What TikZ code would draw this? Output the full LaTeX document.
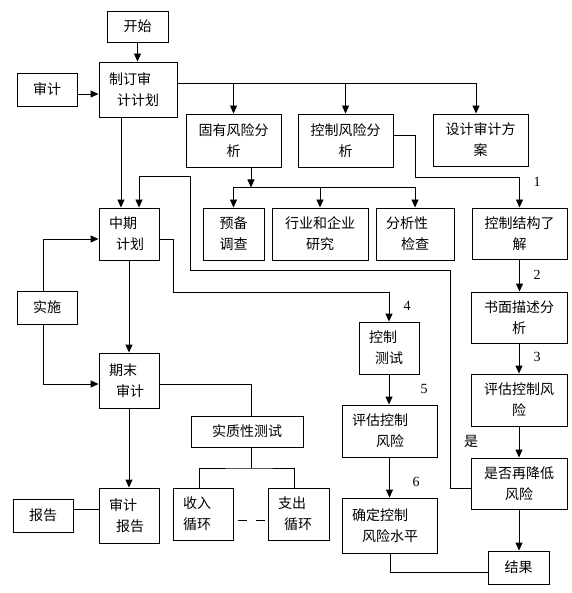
\documentclass[tikz,border=0pt]{standalone}
\usepackage{fontspec}
\setmainfont{Noto Sans CJK SC}
\newfontfamily\numfont{Liberation Serif}
\usetikzlibrary{arrows.meta,calc}
\begin{document}
\begin{tikzpicture}[x=1pt,y=-1pt, line width=0.9pt,
 box/.style={draw, rectangle, align=center, inner sep=0pt, font=\fontsize{14pt}{21pt}\selectfont},
 lbox/.style={box, align=left, inner xsep=10pt, inner ysep=0pt},
 arr/.style={-{Triangle[length=8pt,width=7pt]}},
 num/.style={font=\numfont\fontsize{14pt}{14pt}\selectfont}]
\useasboundingbox[fill=white] (0,0) rectangle (571,593);

% nodes
\node[box,minimum width=61pt,minimum height=31pt] (start) at (137.5,26.5) {开始};
\node[box,minimum width=60pt,minimum height=33pt] (audit) at (47,89.5) {审计};
\node[lbox,text width=58pt,minimum height=55pt] (plan) at (138,89.5) {制订审\\\hspace*{8pt}计计划};
\node[box,minimum width=95pt,minimum height=53pt] (inh) at (233.5,140.5) {固有风险分\\析};
\node[box,minimum width=95pt,minimum height=53pt] (ctrl) at (345.5,140.5) {控制风险分\\析};
\node[box,minimum width=95pt,minimum height=52pt] (design) at (480.5,140) {设计审计方\\案};
\node[box,minimum width=61pt,minimum height=52pt] (prep) at (233.5,234) {预备\\调查};
\node[box,minimum width=96pt,minimum height=52pt] (industry) at (320,234) {行业和企业\\研究};
\node[lbox,text width=58pt,minimum height=52pt] (analytic) at (415,234) {分析性\\\hspace*{15pt}检查};
\node[box,minimum width=95pt,minimum height=51pt] (struct) at (519.5,233.5) {控制结构了\\解};
\node[lbox,text width=40pt,minimum height=52pt] (mid) at (129,234) {中期\\\hspace*{7pt}计划};
\node[box,minimum width=60pt,minimum height=33pt] (impl) at (47,307.5) {实施};
\node[lbox,text width=40pt,minimum height=52pt] (test) at (389,348) {控制\\\hspace*{6pt}测试};
\node[box,minimum width=96pt,minimum height=51pt] (written) at (519,317.5) {书面描述分\\析};
\node[box,minimum width=96pt,minimum height=52pt] (evalr) at (519,400) {评估控制风\\险};
\node[lbox,text width=75pt,minimum height=52pt] (evalm) at (389.5,431) {评估控制\\\hspace*{24pt}风险};
\node[lbox,text width=40pt,minimum height=55pt] (final) at (129,380.5) {期末\\\hspace*{7pt}审计};
\node[box,minimum width=112pt,minimum height=31pt] (subst) at (247,431.5) {实质性测试};
\node[box,minimum width=96pt,minimum height=51pt] (reduce) at (519,483.5) {是否再降低\\风险};
\node[lbox,text width=75pt,minimum height=55pt] (determine) at (389.5,525.5) {确定控制\\\hspace*{10pt}风险水平};
\node[lbox,text width=40pt,minimum height=52pt] (income) at (203,514) {收入\\循环};
\node[lbox,text width=41pt,minimum height=52pt] (expense) at (298.5,514) {支出\\\hspace*{6pt}循环};
\node[lbox,text width=40pt,minimum height=55pt] (rbox) at (129,515.5) {审计\\\hspace*{7pt}报告};
\node[box,minimum width=60pt,minimum height=33pt] (report) at (43,515.5) {报告};
\node[box,minimum width=61pt,minimum height=33pt] (result) at (518.5,567.5) {结果};

% labels
\node[num] (n1) at (537,182) {1};
\node[num] (n2) at (537,275) {2};
\node[num] (n3) at (537,357) {3};
\node[num] (n4) at (407,306) {4};
\node[num] (n5) at (424,389) {5};
\node[num] (n6) at (416,482) {6};
\node[font=\fontsize{14pt}{14pt}\selectfont] (yes) at (471,441) {是};

% junction coordinates
\coordinate (b1) at ([yshift=6.5pt]plan.east);
\coordinate (b2) at ([xshift=17.5pt,yshift=-20pt]inh.south);
\coordinate (c1) at (415,177);
\coordinate (l1) at (450,270);
\coordinate (l2) at (190,176);
\coordinate (m1) at (173,292);
\coordinate (s1) at (251,468);

% connectors
\draw[arr] (start.south) -- (start.south |- plan.north);
\draw[arr] ([yshift=-4.5pt]audit.east) -- ([yshift=-4.5pt]audit.east -| plan.west);
\draw[arr] (b1) -| ([xshift=-4.5pt]design.north);
\draw[arr] (inh.north |- b1) -- (inh.north);
\draw[arr] (ctrl.north |- b1) -- (ctrl.north);
\draw[arr] ([xshift=-17pt]plan.south) -- ([xshift=-8pt]mid.north);
\draw[arr] ([xshift=17.5pt]inh.south) -- (b2);
\draw (prep.north |- b2) -- (analytic.north |- b2);
\draw[arr] (prep.north |- b2) -- (prep.north);
\draw[arr] (industry.north |- b2) -- (industry.north);
\draw[arr] (analytic.north |- b2) -- (analytic.north);
\draw[arr] ([yshift=5.5pt]ctrl.east) -| (c1) -| (struct.north);
\draw[arr] (struct.south) -- (struct.south |- written.north);
\draw[arr] (written.south) -- (written.south |- evalr.north);
\draw[arr] (evalr.south) -- (evalr.south |- reduce.north);
\draw[arr] (reduce.south) -- (reduce.south |- result.north);
\draw[arr] ([yshift=-4.5pt]reduce.west) -| (l1) -| (l2) -| ([xshift=10pt]mid.north);
\draw[arr] ([yshift=-5pt]mid.east) -| (m1) -| (test.north);
\draw[arr] (test.south) -- (test.south |- evalm.north);
\draw[arr] (evalm.south) -- (evalm.south |- determine.north);
\draw ([xshift=0.5pt]determine.south) |- ([yshift=-4.5pt]result.west);
\draw[arr] ([xshift=-4pt]impl.north) |- ([yshift=-5pt]mid.west);
\draw[arr] ([xshift=-4pt]impl.south) |- ([yshift=-3.5pt]final.west);
\draw[arr] (mid.south) -- (final.north);
\draw[arr] (final.south) -- (rbox.north);
\draw ([yshift=-3.5pt]final.east) -| ([xshift=4pt]subst.north);
\draw ([xshift=4pt]subst.south) -- (s1);
\draw ([xshift=-4pt]income.north) |- (s1) -| ([xshift=-4.5pt]expense.north);
\draw[dash pattern=on 9pt off 9pt] ([xshift=5pt,yshift=-6pt]income.east) -- ([xshift=-3pt,yshift=-6pt]expense.west);
\draw ([yshift=6.5pt]report.east) -- ([yshift=6.5pt]report.east -| rbox.west);
\end{tikzpicture}
\end{document}
